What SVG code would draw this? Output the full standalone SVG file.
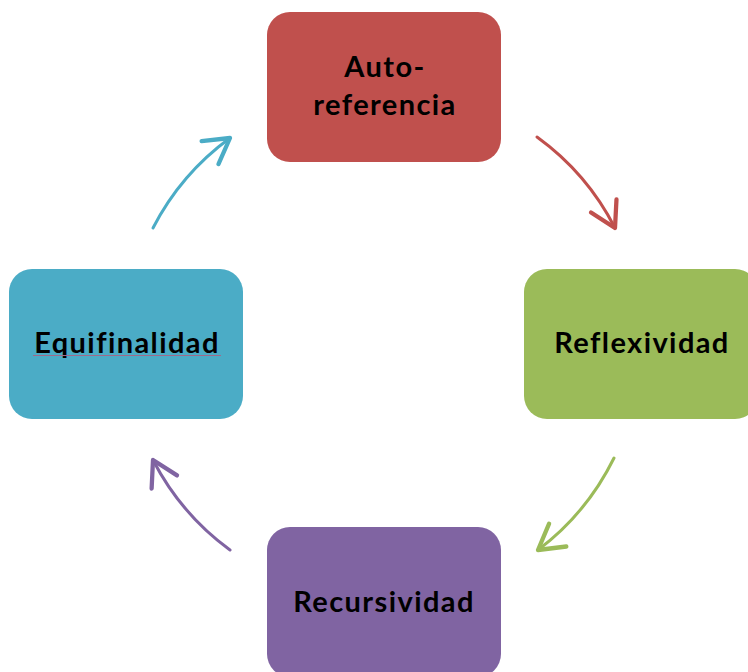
<svg xmlns="http://www.w3.org/2000/svg" width="748" height="672" viewBox="0 0 748 672">
<style>
.lbl{font-family:"Lato","Liberation Sans",sans-serif;font-weight:bold;font-size:29px;fill:#000;text-anchor:middle;letter-spacing:1.4px;font-variant-ligatures:none}
.arc{fill:none;stroke-width:3;stroke-linecap:round}
.head{fill:none;stroke-width:3;stroke-linecap:round;stroke-linejoin:round}
</style>
<defs>
<marker id="mr" markerUnits="userSpaceOnUse" markerWidth="40" markerHeight="40" refX="0" refY="0" viewBox="-22 -14 26 28" orient="auto" overflow="visible"><path class="head" stroke="#C0504D" d="M-17.3,-10 L0,0 L-17.3,10"/></marker>
<marker id="mg" markerUnits="userSpaceOnUse" markerWidth="40" markerHeight="40" refX="0" refY="0" viewBox="-22 -14 26 28" orient="auto" overflow="visible"><path class="head" stroke="#9BBB59" d="M-17.3,-10 L0,0 L-17.3,10"/></marker>
<marker id="mp" markerUnits="userSpaceOnUse" markerWidth="40" markerHeight="40" refX="0" refY="0" viewBox="-22 -14 26 28" orient="auto" overflow="visible"><path class="head" stroke="#8064A2" d="M-17.3,-10 L0,0 L-17.3,10"/></marker>
<marker id="mt" markerUnits="userSpaceOnUse" markerWidth="40" markerHeight="40" refX="0" refY="0" viewBox="-22 -14 26 28" orient="auto" overflow="visible"><path class="head" stroke="#4BACC6" d="M-17.3,-10 L0,0 L-17.3,10"/></marker>
</defs>
<rect width="748" height="672" fill="#fff"/>
<g id="connectors">
<path class="arc" stroke="#C0504D" d="M537,137 A256,256 0 0 1 615,228" marker-end="url(#mr)"/>
<path class="arc" stroke="#9BBB59" d="M614,458 A258,258 0 0 1 538,550" marker-end="url(#mg)"/>
<path class="arc" stroke="#8064A2" d="M230,550 A258,258 0 0 1 153,460" marker-end="url(#mp)"/>
<path class="arc" stroke="#4BACC6" d="M153,228 A257,257 0 0 1 230,138" marker-end="url(#mt)"/>
</g>
<g id="autoreferencia">
<rect x="267" y="12" width="234" height="150" rx="23" fill="#C0504D"/>
<text class="lbl" x="385" y="77">Auto-</text>
<text class="lbl" x="385" y="115">referencia</text>
</g>
<g id="reflexividad">
<rect x="524" y="269" width="234" height="150" rx="23" fill="#9BBB59"/>
<text class="lbl" x="642" y="353">Reflexividad</text>
</g>
<g id="recursividad">
<rect x="267" y="527" width="234" height="150" rx="23" fill="#8064A2"/>
<text class="lbl" x="384" y="612">Recursividad</text>
</g>
<g id="equifinalidad">
<rect x="9" y="269" width="234" height="150" rx="23" fill="#4BACC6"/>
<text class="lbl" x="127" y="353">Equifinalidad</text>
<line x1="33" y1="355.5" x2="221" y2="355.5" stroke="#A06A8A" stroke-width="1.2"/>
</g>
</svg>
